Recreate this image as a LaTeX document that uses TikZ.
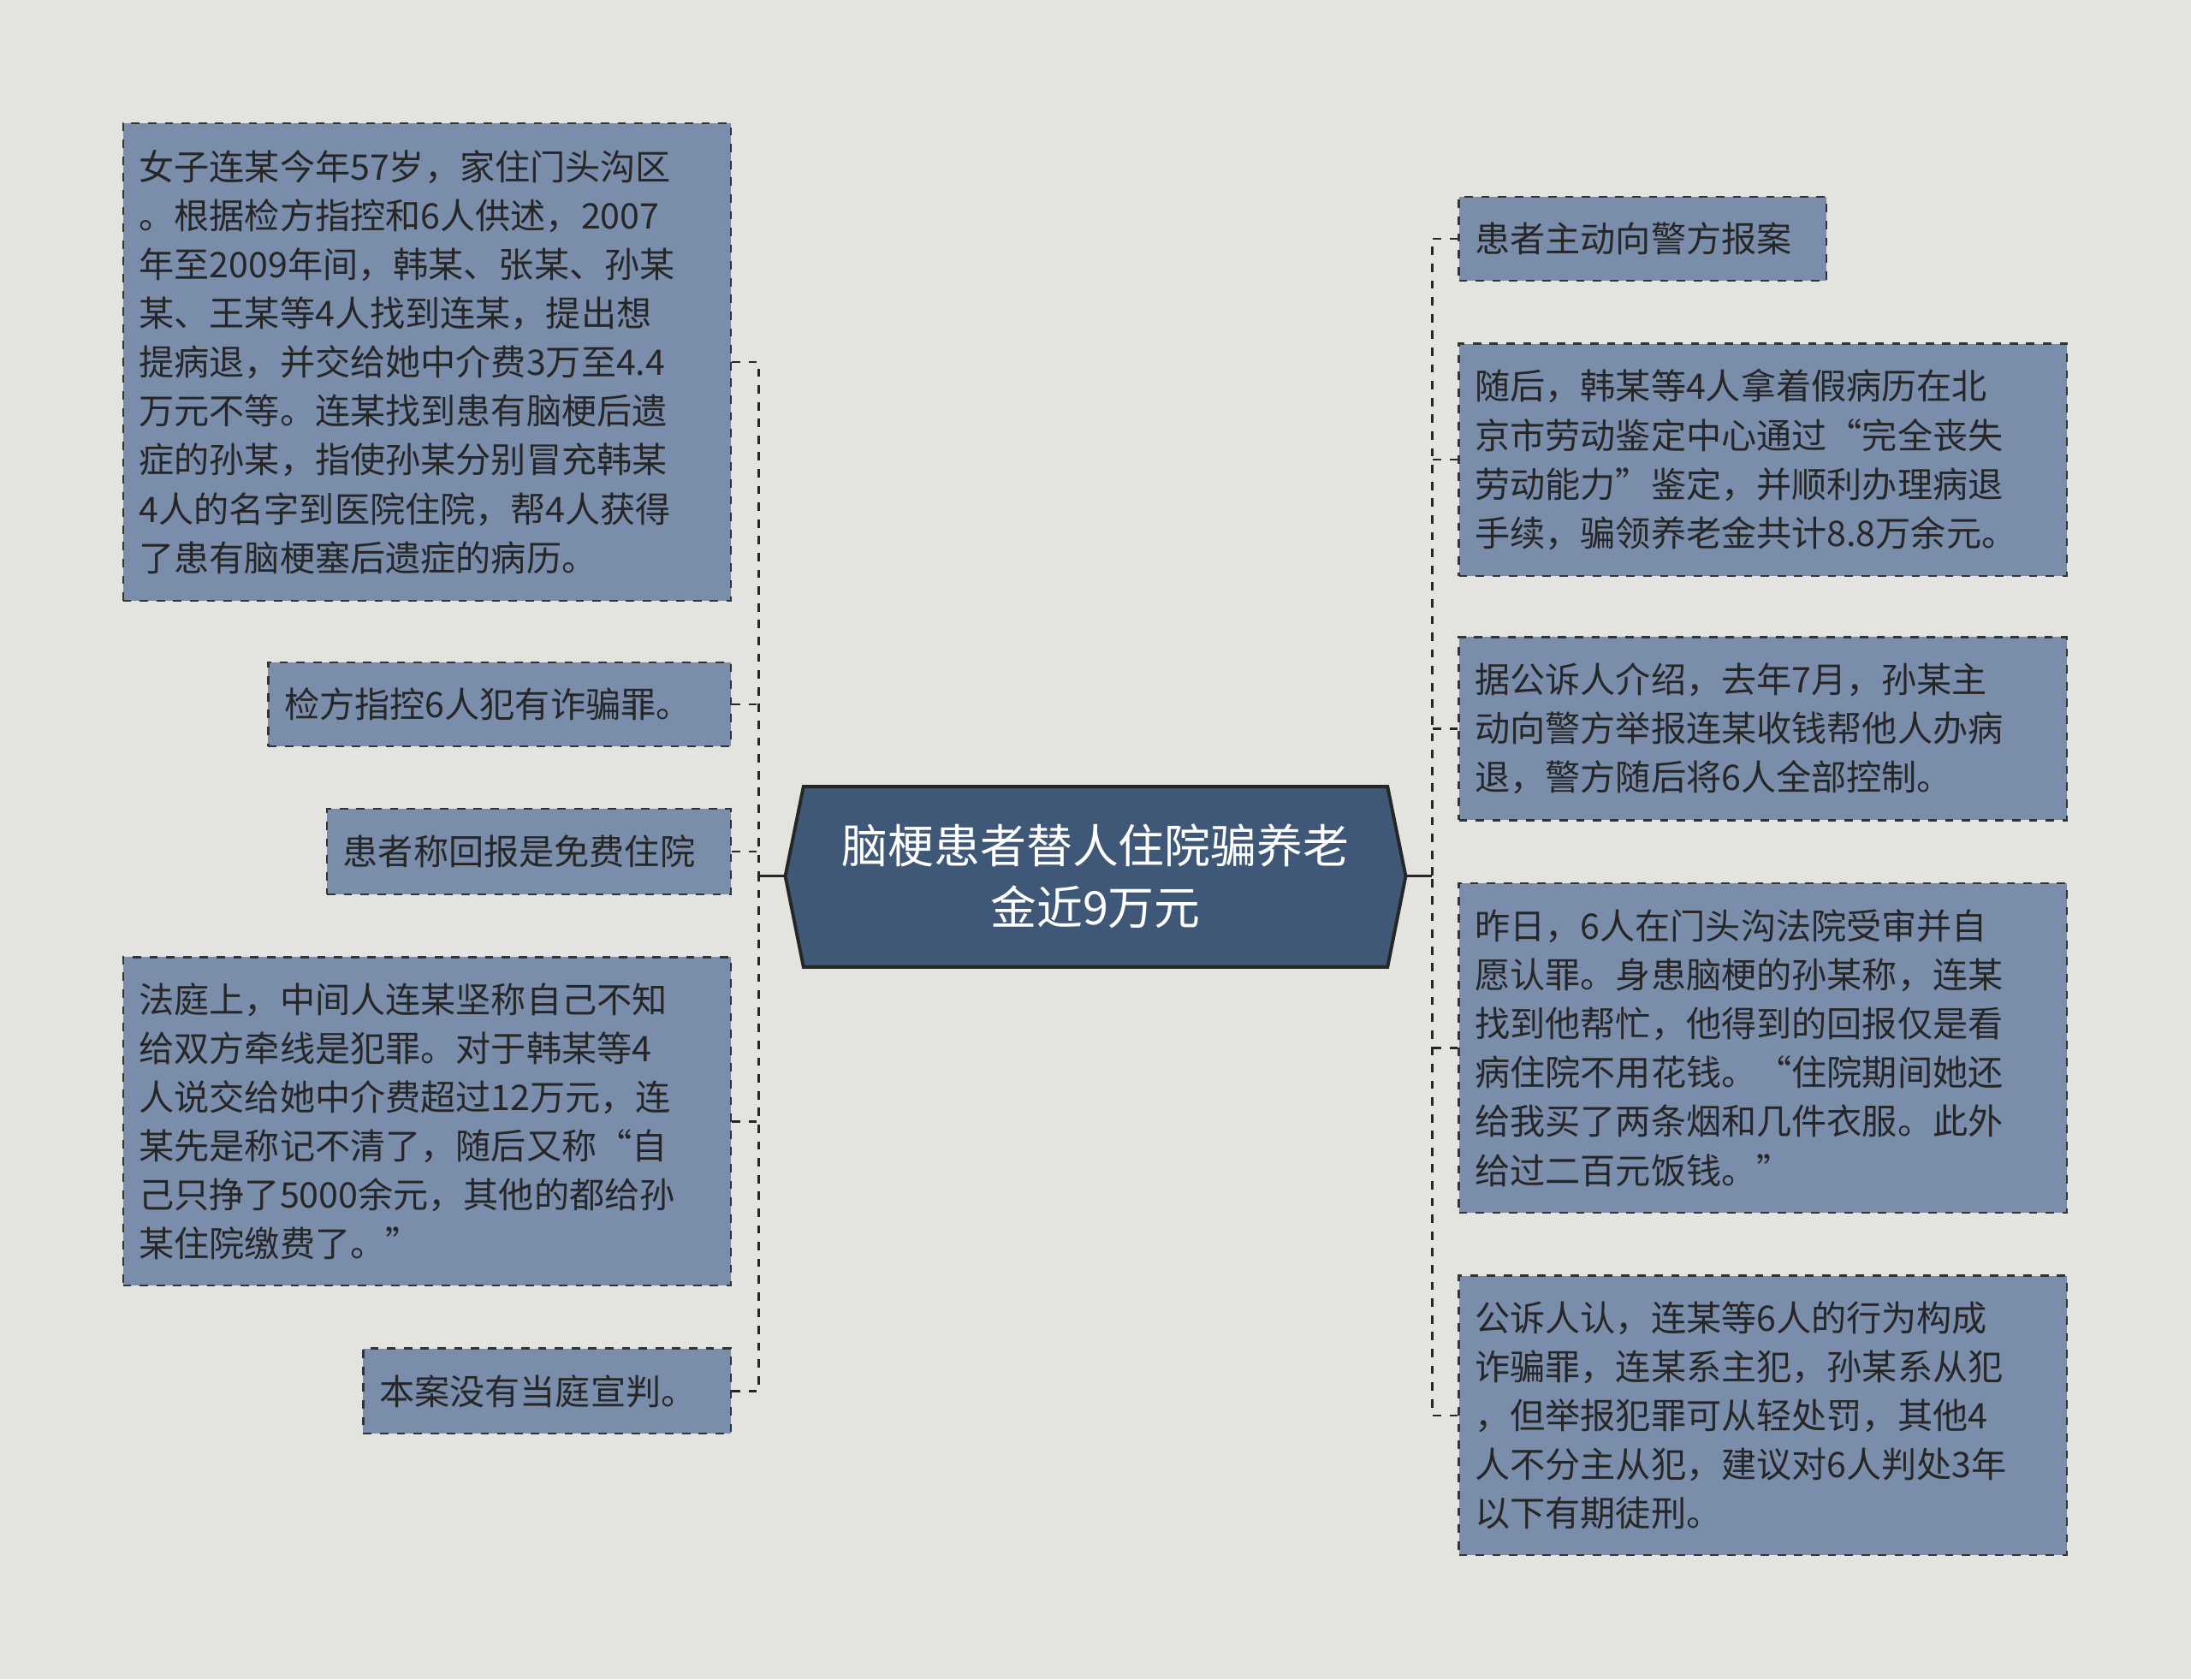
\documentclass[tikz,border=0pt]{standalone}
\usepackage{fontspec}
\setmainfont{Noto Sans CJK SC}
\begin{document}
\begin{tikzpicture}[x=0.5pt,y=-0.5pt,
  box/.style={draw=black!80, dashed, line width=0.7pt, fill=boxfill, text=textc, inner sep=0pt, align=left, font=\fontsize{12.6pt}{17.5pt}\selectfont},
  conn/.style={draw=black!85, dashed, line width=0.8pt}]
\definecolor{bg}{HTML}{E3E4E0}
\definecolor{boxfill}{HTML}{7A8DAB}
\definecolor{textc}{HTML}{262626}
\definecolor{hexfill}{HTML}{3F5877}
\fill[bg] (0,0) rectangle (1568,1202);
\useasboundingbox (0,0) rectangle (1568,1202);
% center
\fill[hexfill, draw=black!85, line width=1.2pt] (562,627) -- (575,563) -- (993,563) -- (1006,627) -- (993,692) -- (575,692) -- cycle;
\node[text=white, align=center, font=\fontsize{16.5pt}{22pt}\selectfont] (C) at (784,627) {脑梗患者替人住院骗养老\\金近9万元};
\coordinate (cl) at (562,627);
\coordinate (cr) at (1006,627);
\coordinate (jl) at (543,627);
\coordinate (jr) at (1025,627);
% left boxes
\node[box, minimum width=217.5pt, minimum height=171pt, text width=206pt] (L1) at (305.5,259) {女子连某今年57岁，家住门头沟区\\。根据检方指控和6人供述，2007\\年至2009年间，韩某、张某、孙某\\某、王某等4人找到连某，提出想\\提病退，并交给她中介费3万至4.4\\万元不等。连某找到患有脑梗后遗\\症的孙某，指使孙某分别冒充韩某\\4人的名字到医院住院，帮4人获得\\了患有脑梗塞后遗症的病历。};
\node[box, minimum width=165.5pt, minimum height=30pt, text width=154pt] (L2) at (357.5,504) {检方指控6人犯有诈骗罪。};
\node[box, minimum width=144.5pt, minimum height=30.5pt, text width=133pt] (L3) at (378.5,609.5) {患者称回报是免费住院};
\node[box, minimum width=217.5pt, minimum height=117.5pt, text width=206pt] (L4) at (305.5,802.5) {法庭上，中间人连某坚称自己不知\\给双方牵线是犯罪。对于韩某等4\\人说交给她中介费超过12万元，连\\某先是称记不清了，随后又称“自\\己只挣了5000余元，其他的都给孙\\某住院缴费了。”};
\node[box, minimum width=131.5pt, minimum height=30.5pt, text width=120pt] (L5) at (391.5,995.5) {本案没有当庭宣判。};
% right boxes
\node[box, minimum width=131.5pt, minimum height=30pt, text width=120pt] (R1) at (1175.5,171) {患者主动向警方报案};
\node[box, minimum width=217.5pt, minimum height=83pt, text width=206pt] (R2) at (1261.5,329) {随后，韩某等4人拿着假病历在北\\京市劳动鉴定中心通过“完全丧失\\劳动能力”鉴定，并顺利办理病退\\手续，骗领养老金共计8.8万余元。};
\node[box, minimum width=217.5pt, minimum height=65.5pt, text width=206pt] (R3) at (1261.5,521.5) {据公诉人介绍，去年7月，孙某主\\动向警方举报连某收钱帮他人办病\\退，警方随后将6人全部控制。};
\node[box, minimum width=217.5pt, minimum height=118pt, text width=206pt] (R4) at (1261.5,750) {昨日，6人在门头沟法院受审并自\\愿认罪。身患脑梗的孙某称，连某\\找到他帮忙，他得到的回报仅是看\\病住院不用花钱。“住院期间她还\\给我买了两条烟和几件衣服。此外\\给过二百元饭钱。”};
\node[box, minimum width=217.5pt, minimum height=100pt, text width=206pt] (R5) at (1261.5,1013) {公诉人认，连某等6人的行为构成\\诈骗罪，连某系主犯，孙某系从犯\\，但举报犯罪可从轻处罚，其他4\\人不分主从犯，建议对6人判处3年\\以下有期徒刑。};
% connectors
\draw[black!85, line width=0.8pt] (cl) -- (jl);
\draw[black!85, line width=0.8pt] (cr) -- (jr);
\draw[conn] (L1.east) -| (jl);
\draw[conn] (L5.east) -| (jl);
\draw[conn] (L2.east) -- (L2.east -| jl);
\draw[conn] (L3.east) -- (L3.east -| jl);
\draw[conn] (L4.east) -- (L4.east -| jl);
\draw[conn] (R1.west) -| (jr);
\draw[conn] (R5.west) -| (jr);
\draw[conn] (R2.west) -- (R2.west -| jr);
\draw[conn] (R3.west) -- (R3.west -| jr);
\draw[conn] (R4.west) -- (R4.west -| jr);
\end{tikzpicture}
\end{document}
